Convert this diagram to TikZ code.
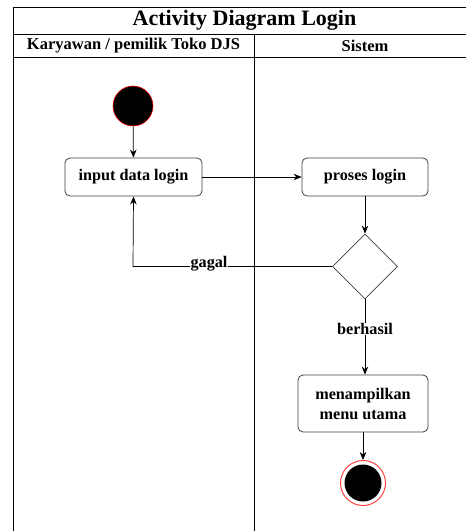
\documentclass[tikz,border=0pt]{standalone}
\usepackage{fontspec}
\setmainfont{Liberation Serif}
\usetikzlibrary{shapes.geometric,arrows.meta}
\begin{document}
\begin{tikzpicture}[x=1pt,y=-1pt,
  lane/.style={draw=black,line width=0.9pt},
  action/.style={draw=black!75,line width=0.8pt,rounded corners=5pt,fill=white,
    align=center,font=\fontsize{16.2}{20}\selectfont\bfseries,inner sep=0pt},
  decision/.style={draw=black!75,line width=0.8pt,diamond,fill=white,
    minimum width=65pt,minimum height=65pt,inner sep=0pt},
  flow/.style={draw=black,line width=0.7pt,-{Stealth[length=8pt,width=6.5pt]}},
  lbl/.style={fill=white,inner sep=0.5pt,font=\fontsize{16.2}{18}\selectfont\bfseries}
]
\useasboundingbox (0,0) rectangle (466,531);
\fill[white] (0,0) rectangle (466,531);

% swimlane frame
\draw[lane] (466,7) -- (13,7) -- (13,531);
\draw[lane] (13,34) -- (466,34);
\draw[lane] (13,57) -- (466,57);
\draw[lane] (254,34) -- (254,531);
\node[font=\fontsize{22}{24}\selectfont\bfseries] (title) at (244.5,20.5) {Activity Diagram Login};
\node[font=\fontsize{16.5}{18}\selectfont\bfseries] (laneA) at (133.5,45.5) {Karyawan / pemilik Toko DJS};
\node[font=\fontsize{16.5}{18}\selectfont\bfseries] (laneB) at (365,45.5) {Sistem};

% start and end
\node[circle,fill=black,draw=red,line width=0.6pt,minimum size=40pt,inner sep=0pt] (start) at (133,106) {};
\node[circle,draw=red!80,line width=0.9pt,fill=white,minimum size=45pt,inner sep=0pt] (endo) at (363,483) {};
\node[circle,fill=black,minimum size=37pt,inner sep=0pt] (endi) at (363,483) {};

% actions
\node[action,minimum width=137pt,minimum height=38pt] (input) at (133.5,177) {input data login};
\node[action,minimum width=126pt,minimum height=38pt] (proses) at (365,177) {proses login};
\node[decision] (dec) at (365,266.5) {};
\node[action,minimum width=130pt,minimum height=57pt] (menu) at (363,403.5) {menampilkan\\menu utama};

% flows
\draw[flow] (start) -- (input);
\draw[flow] (input) -- (proses);
\draw[flow] (proses) -- (dec);
\coordinate (corner) at (133,266.5);
\draw[flow] (dec.west) -- (corner) -- (input.south);
\node[lbl] (gagal) at (209,264) {gagal};
\draw[flow] (dec.south) -- (menu.north -| dec.south);
\node[lbl] (berhasil) at (365,329) {berhasil};
\draw[flow] (menu.south -| endo.north) -- (endo.north);
\end{tikzpicture}
\end{document}
